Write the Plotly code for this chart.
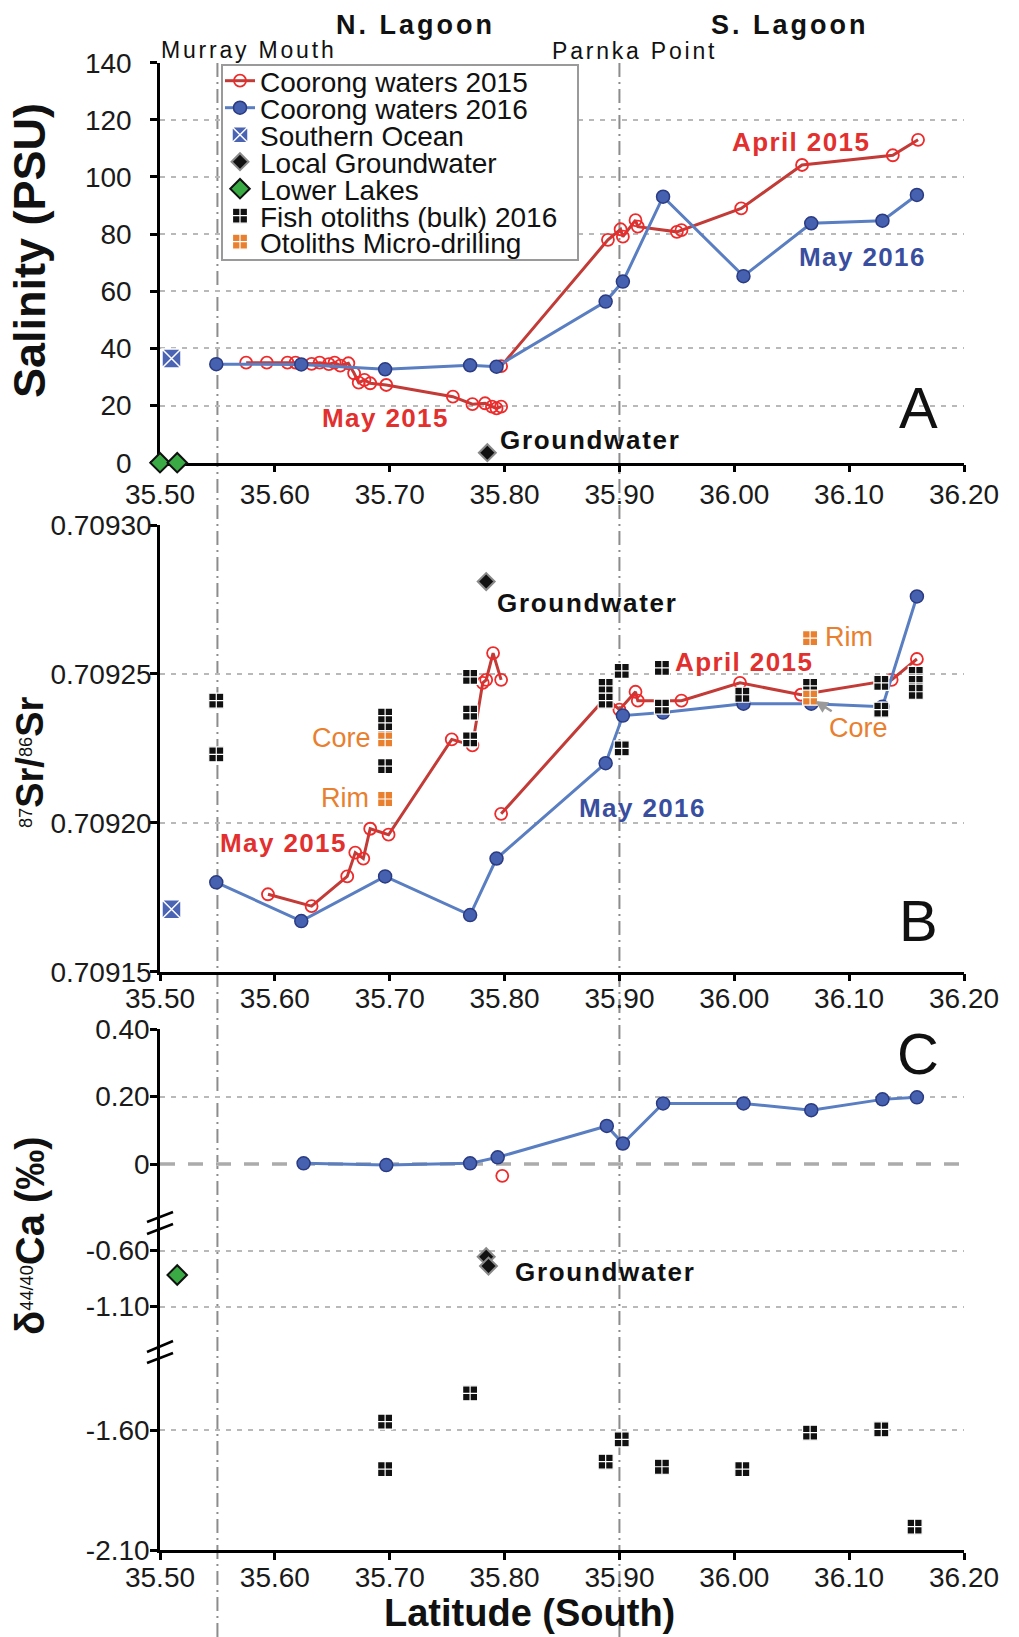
import plotly.graph_objects as go

W, H = 1019, 1637
FONT = "Liberation Sans, Arial, Helvetica, sans-serif"

# ---------------- axis ticks ----------------
lat_ticks = [35.50, 35.60, 35.70, 35.80, 35.90, 36.00, 36.10, 36.20]
lat_ticktext = ["35.50", "35.60", "35.70", "35.80", "35.90", "36.00", "36.10", "36.20"]
sal_ticks = [0, 20, 40, 60, 80, 100, 120, 140]
sr_ticks = [0.70915, 0.70920, 0.70925, 0.70930]
sr_ticktext = ["0.70915", "0.70920", "0.70925", "0.70930"]
ca_top_ticks = [0.0, 0.2, 0.4]
ca_top_ticktext = ["0", "0.20", "0.40"]
ca_mid_ticks = [-0.6, -1.1]
ca_mid_ticktext = ["-0.60", "-1.10"]
ca_low_ticks = [-1.6, -2.1]
ca_low_ticktext = ["-1.60", "-2.10"]

# ---------------- Coorong waters 2016 (May 2016) ----------------
lat_2016 = [35.549, 35.623, 35.696, 35.770, 35.793, 35.888, 35.903, 35.938, 36.008, 36.067, 36.129, 36.159]
sal_2016 = [34.5, 34.4, 32.7, 34.1, 33.6, 56.4, 63.4, 93.1, 65.3, 83.8, 84.7, 93.7]
sr_2016 = [0.709180, 0.709167, 0.709182, 0.709169, 0.709188, 0.709220,
           0.709236, 0.709237, 0.709240, 0.709240, 0.709239, 0.709276]
lat_ca_2016 = [35.625, 35.697, 35.770, 35.794, 35.889, 35.903, 35.938, 36.008, 36.067, 36.129, 36.159]
ca_2016 = [0.002, -0.003, 0.002, 0.020, 0.113, 0.061, 0.180, 0.180, 0.160, 0.192, 0.198]

# ---------------- Coorong waters 2015 (May 2015 north, April 2015 south) ----------------
lat_may15_sal = [35.575, 35.593, 35.611, 35.618, 35.632, 35.639, 35.647, 35.652, 35.657, 35.664,
                 35.669, 35.673, 35.678, 35.683, 35.697, 35.755, 35.772, 35.783, 35.789, 35.793, 35.797]
sal_may15 = [35.0, 35.0, 35.0, 35.0, 34.6, 35.0, 34.5, 35.0, 34.0, 34.8,
             31.3, 28.0, 29.0, 27.8, 27.2, 23.1, 20.5, 20.8, 19.6, 19.0, 19.6]
lat_apr15_sal = [35.797, 35.890, 35.901, 35.903, 35.914, 35.916, 35.950, 35.954, 36.006, 36.059, 36.138, 36.160]
sal_apr15 = [33.8, 78.0, 81.7, 79.1, 84.9, 82.6, 80.8, 81.4, 89.0, 104.2, 107.6, 113.0]

lat_may15_sr = [35.594, 35.632, 35.663, 35.670, 35.677, 35.683, 35.699, 35.754, 35.772,
                35.781, 35.784, 35.790, 35.797]
sr_may15 = [0.709176, 0.709172, 0.709182, 0.709190, 0.709188, 0.709198, 0.709196, 0.709228,
            0.709226, 0.709247, 0.709248, 0.709257, 0.709248]
lat_apr15_sr = [35.797, 35.888, 35.900, 35.914, 35.916, 35.954, 36.005, 36.058, 36.137, 36.159]
sr_apr15 = [0.709203, 0.709242, 0.709238, 0.709244, 0.709241, 0.709241, 0.709247, 0.709243,
            0.709248, 0.709255]
lat_apr15_ca = [35.798]
ca_apr15 = [-0.035]

# ---------------- end members ----------------
ocean_lat_sal = [35.510]
ocean_sal = [36.5]
ocean_lat_sr = [35.510]
ocean_sr = [0.709171]

gw_lat_sal = [35.785]
gw_sal = [3.5]
gw_lat_sr = [35.784]
gw_sr = [0.709281]
gw_lat_ca = [35.784, 35.786]
gw_ca = [-0.654, -0.737]

lakes_lat_sal = [35.500, 35.515]
lakes_sal = [0.0, 0.0]
lakes_lat_ca = [35.515]
lakes_ca = [-0.817]

# ---------------- fish otoliths ----------------
oto_lat_sr = [35.549, 35.549, 35.696, 35.696, 35.696, 35.770, 35.770, 35.770,
              35.888, 35.888, 35.902, 35.902, 35.937, 35.937, 36.007, 36.066,
              36.128, 36.128, 36.158, 36.158, 36.158]
oto_sr = [0.709241, 0.709223, 0.709236, 0.709231, 0.709219, 0.709249, 0.709237, 0.709228,
          0.709246, 0.709241, 0.709251, 0.709225, 0.709252, 0.709239, 0.709243, 0.709246,
          0.709247, 0.709238, 0.709250, 0.709247, 0.709244]
oto_lat_ca = [35.696, 35.696, 35.770, 35.888, 35.902, 35.937, 36.007, 36.066, 36.128, 36.157]
oto_ca = [-1.565, -1.763, -1.447, -1.732, -1.639, -1.753, -1.763, -1.611, -1.597, -2.003]

micro_lat_sr = [35.696, 35.696, 36.066, 36.066]
micro_sr = [0.709228, 0.709208, 0.709242, 0.709262]

# Murray Mouth and Parnka Point
site_lat = [35.55, 35.90]

# ---------------- styles ----------------
RED_LINE, RED_MK = "#c23b37", "#ee2b2b"
BLUE_LINE, BLUE_MK, BLUE_EDGE = "#5a7ec2", "#4561b0", "#2b3b82"
ORANGE = "#e8802f"
GREEN = "#3aaa45"
GRID = "#b9b9b9"


def px(x):
    return x / W


def py(y):
    return 1 - y / H


X_DOM = [px(160), px(964)]

fig = go.Figure()

red_style = dict(mode="lines+markers", line=dict(color=RED_LINE, width=3),
                 marker=dict(symbol="circle-open", size=12, color=RED_MK, line=dict(width=1.8)),
                 cliponaxis=False)
blue_style = dict(mode="lines+markers", line=dict(color=BLUE_LINE, width=3),
                  marker=dict(symbol="circle", size=13, color=BLUE_MK, line=dict(color=BLUE_EDGE, width=1.5)),
                  cliponaxis=False)
ocean_style = dict(mode="markers", cliponaxis=False,
                   marker=dict(symbol="square-x", size=19, color="#4a63b3", line=dict(color="white", width=1.5)))
gw_style = dict(mode="markers", cliponaxis=False,
                marker=dict(symbol="diamond", size=13, color="#111111", line=dict(color="#8a8a8a", width=2)))
lakes_style = dict(mode="markers", cliponaxis=False,
                   marker=dict(symbol="diamond", size=15, color=GREEN, line=dict(color="#111111", width=2)))
oto_style = dict(mode="markers", cliponaxis=False,
                 marker=dict(symbol="square-cross", size=15, color="#111111", line=dict(color="white", width=1.2)))
micro_style = dict(mode="markers", cliponaxis=False,
                   marker=dict(symbol="square-cross", size=15, color=ORANGE, line=dict(color="white", width=1.2)))

# ---------------- panel A: salinity ----------------
fig.add_trace(go.Scatter(x=lat_may15_sal, y=sal_may15, xaxis="x", yaxis="y", name="Coorong waters 2015",
                         legend="legend", showlegend=True, **red_style))
fig.add_trace(go.Scatter(x=lat_apr15_sal, y=sal_apr15, xaxis="x", yaxis="y", showlegend=False, **red_style))
fig.add_trace(go.Scatter(x=lat_2016, y=sal_2016, xaxis="x", yaxis="y", name="Coorong waters 2016",
                         legend="legend2", showlegend=True, **blue_style))
fig.add_trace(go.Scatter(x=ocean_lat_sal, y=ocean_sal, xaxis="x", yaxis="y", name="Southern Ocean",
                         legend="legend3", showlegend=True, **ocean_style))
fig.add_trace(go.Scatter(x=gw_lat_sal, y=gw_sal, xaxis="x", yaxis="y", name="Local Groundwater",
                         legend="legend4", showlegend=True, **gw_style))
fig.add_trace(go.Scatter(x=lakes_lat_sal, y=lakes_sal, xaxis="x", yaxis="y", name="Lower Lakes",
                         legend="legend5", showlegend=True, **lakes_style))

# ---------------- panel B: 87Sr/86Sr ----------------
fig.add_trace(go.Scatter(x=lat_may15_sr, y=sr_may15, xaxis="x2", yaxis="y2", showlegend=False, **red_style))
fig.add_trace(go.Scatter(x=lat_apr15_sr, y=sr_apr15, xaxis="x2", yaxis="y2", showlegend=False, **red_style))
fig.add_trace(go.Scatter(x=lat_2016, y=sr_2016, xaxis="x2", yaxis="y2", showlegend=False, **blue_style))
fig.add_trace(go.Scatter(x=oto_lat_sr, y=oto_sr, xaxis="x2", yaxis="y2", name="Fish otoliths (bulk) 2016",
                         legend="legend6", showlegend=True, **oto_style))
fig.add_trace(go.Scatter(x=micro_lat_sr, y=micro_sr, xaxis="x2", yaxis="y2", name="Otoliths Micro-drilling",
                         legend="legend7", showlegend=True, **micro_style))
fig.add_trace(go.Scatter(x=ocean_lat_sr, y=ocean_sr, xaxis="x2", yaxis="y2", showlegend=False, **ocean_style))
fig.add_trace(go.Scatter(x=gw_lat_sr, y=gw_sr, xaxis="x2", yaxis="y2", showlegend=False, **gw_style))

# ---------------- panel C: d44/40Ca on a broken axis ----------------
fig.add_trace(go.Scatter(x=lat_ca_2016, y=ca_2016, xaxis="x3", yaxis="y3", showlegend=False, **blue_style))
fig.add_trace(go.Scatter(x=lat_apr15_ca, y=ca_apr15, xaxis="x3", yaxis="y3", showlegend=False,
                         mode="markers", cliponaxis=False,
                         marker=dict(symbol="circle-open", size=12, color=RED_MK, line=dict(width=1.8))))
fig.add_trace(go.Scatter(x=gw_lat_ca, y=gw_ca, xaxis="x3", yaxis="y4", showlegend=False, **gw_style))
fig.add_trace(go.Scatter(x=lakes_lat_ca, y=lakes_ca, xaxis="x3", yaxis="y4", showlegend=False, **lakes_style))
fig.add_trace(go.Scatter(x=oto_lat_ca, y=oto_ca, xaxis="x3", yaxis="y5", showlegend=False, **oto_style))

# ---------------- axes ----------------
tickfont = dict(family=FONT, size=28, color="#1a1a1a")
EPS = 1e-6


def xaxis(anchor, standoff):
    return dict(domain=X_DOM, range=[35.5 - EPS, 36.2 + EPS], anchor=anchor,
                tickmode="array", tickvals=lat_ticks, ticktext=lat_ticktext,
                showline=True, linecolor="black", linewidth=2.5, mirror=False,
                ticks="outside", ticklen=7, tickwidth=2.5, tickcolor="black",
                showgrid=False, zeroline=False, tickfont=tickfont, automargin=False,
                ticklabelstandoff=standoff, layer="below traces", fixedrange=True)


def yaxis(dom_px, rng, ticks, ticktext, standoff, anchor):
    return dict(domain=[py(dom_px[1]), py(dom_px[0])], range=rng, anchor=anchor,
                tickmode="array", tickvals=ticks, ticktext=ticktext,
                showline=True, linecolor="black", linewidth=2.5,
                ticks="outside", ticklen=7, tickwidth=2.5, tickcolor="black",
                showgrid=True, gridcolor=GRID, gridwidth=1.6, griddash="5px,6px",
                zeroline=False, tickfont=tickfont, ticklabelstandoff=standoff, automargin=False,
                layer="below traces", fixedrange=True)


ya = yaxis((62.7, 462.7), [0 - EPS, 140 + EPS], sal_ticks, [str(v) for v in sal_ticks], 13, "x")
yb = yaxis((525.0, 971.7), [0.70915 - 1e-9, 0.70930 + 1e-9], sr_ticks, sr_ticktext, -7, "x2")
yc_top = yaxis((1029.3, 1223.0), [-0.175, 0.40 + EPS], ca_top_ticks, ca_top_ticktext, -5, "x3")
yc_mid = yaxis((1223.0, 1352.5), [-1.509, -0.353], ca_mid_ticks, ca_mid_ticktext, -5, "x3")
yc_low = yaxis((1352.5, 1550.0), [-2.10 - EPS, -1.277], ca_low_ticks, ca_low_ticktext, -5, "x3")

fig.update_layout(
    width=W, height=H, autosize=False, margin=dict(l=0, r=0, t=0, b=0, pad=0, autoexpand=False),
    paper_bgcolor="white", plot_bgcolor="rgba(0,0,0,0)",
    font=dict(family=FONT, color="#111111"),
    xaxis=xaxis("y", -2), xaxis2=xaxis("y2", -7), xaxis3=xaxis("y5", -6),
    yaxis=ya, yaxis2=yb, yaxis3=yc_top, yaxis4=yc_mid, yaxis5=yc_low,
    hovermode=False,
)

# one single-entry legend per series so the entries sit on a tight spacing
legend_rows = [81, 108, 135, 162, 189, 216, 242]
for i, row in enumerate(legend_rows):
    key = "legend" if i == 0 else f"legend{i + 1}"
    fig.update_layout({key: dict(x=px(220), y=py(row), xanchor="left", yanchor="middle",
                                 bgcolor="rgba(0,0,0,0)", borderwidth=0, itemwidth=30,
                                 tracegroupgap=0,
                                 font=dict(family=FONT, size=28, color="#111111"))})

# ---------------- shapes ----------------
shapes = []
# Murray Mouth / Parnka Point reference lines through all panels
for lat in site_lat:
    shapes.append(dict(type="line", xref="x", yref="paper", x0=lat, x1=lat, y0=0, y1=py(63),
                       line=dict(color="#8c8c8c", width=2, dash="14px,5px,2px,5px"), layer="below"))
# zero line of the d44/40Ca panel
shapes.append(dict(type="line", xref="x3", yref="y3", x0=35.5, x1=36.2, y0=0, y1=0,
                   line=dict(color="white", width=4), layer="between"))
shapes.append(dict(type="line", xref="x3", yref="y3", x0=35.5, x1=36.2, y0=0, y1=0,
                   line=dict(color="#ababab", width=3.5, dash="15px,13px"), layer="between"))
# legend frame
shapes.append(dict(type="rect", xref="paper", yref="paper", x0=px(222), x1=px(578), y0=py(260), y1=py(65),
                   line=dict(color="#9a9a9a", width=2), fillcolor="white", layer="above"))
# axis break marks
for (x0, y0, x1, y1) in [(147, 1222, 173, 1212), (147, 1234, 173, 1224),
                         (147, 1352, 173, 1341), (147, 1363, 173, 1353)]:
    shapes.append(dict(type="line", xref="paper", yref="paper", x0=px(x0), y0=py(y0), x1=px(x1), y1=py(y1),
                       line=dict(color="black", width=2.5), layer="above"))
fig.update_layout(shapes=shapes)


# ---------------- text ----------------
def label(text, x, y, size, color="#111111", bold=False, xanchor="center", angle=0, spacing=0):
    t = f'<span style="letter-spacing:{spacing}px">{text}</span>' if spacing else text
    fig.add_annotation(text=t, x=px(x), y=py(y), xref="paper", yref="paper", xanchor=xanchor,
                       yanchor="middle", showarrow=False, textangle=angle,
                       font=dict(family=FONT, size=size, color=color, weight="bold" if bold else "normal"))


RED_TXT, BLUE_TXT = "#e2302f", "#3a4ea0"

label("N. Lagoon", 415, 25, 27, bold=True, spacing=3)
label("S. Lagoon", 790, 25, 27, bold=True, spacing=3)
label("Murray Mouth", 248, 50, 23, spacing=2.8)
label("Parnka Point", 634, 51, 23, spacing=2.8)

# panel A
label("April 2015", 801, 142, 26, RED_TXT, bold=True, spacing=1.4)
label("May 2016", 862, 257, 26, BLUE_TXT, bold=True, spacing=1.4)
label("May 2015", 385, 418, 26, RED_TXT, bold=True, spacing=1.4)
label("Groundwater", 498, 440, 26, bold=True, xanchor="left", spacing=1.7)
label("A", 918, 407, 58)

# panel B
label("Groundwater", 495, 603, 26, bold=True, xanchor="left", spacing=1.7)
label("April 2015", 744, 662, 26, RED_TXT, bold=True, spacing=1.4)
label("Rim", 849, 637, 27, ORANGE)
label("Core", 341, 738, 27, ORANGE)
label("Rim", 345, 798, 27, ORANGE)
label("May 2015", 283, 843, 26, RED_TXT, bold=True, spacing=1.4)
label("May 2016", 642, 808, 26, BLUE_TXT, bold=True, spacing=1.4)
label("B", 918, 920, 58)
fig.add_annotation(text="Core", x=micro_lat_sr[2], y=micro_sr[2], xref="x2", yref="y2",
                   ax=48, ay=30, showarrow=True, arrowhead=2, arrowsize=1, arrowwidth=2.5,
                   arrowcolor="#9a9a9a", standoff=6,
                   font=dict(family=FONT, size=27, color=ORANGE))

# panel C
label("C", 918, 1053, 58)
label("Groundwater", 513, 1272, 26, bold=True, xanchor="left", spacing=1.7)

# axis titles
label("Salinity (PSU)", 30, 251, 45, bold=True, angle=-90)
sup = '<span style="font-size:26px;font-weight:normal"><sup>{}</sup></span>'
label(sup.format("87") + "Sr/" + sup.format("86") + "Sr", 30, 762, 38, bold=True, angle=-90)
label("δ" + sup.format("44/40") + "Ca (‰)", 30, 1236, 40, bold=True, angle=-90)
label("Latitude (South)", 529, 1613, 38, bold=True)

fig.write_html("out.html")
